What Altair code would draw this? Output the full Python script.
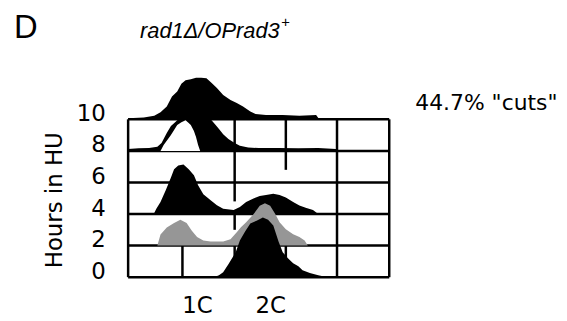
import altair as alt
import pandas as pd

# ---- data ----
hours = [0, 2, 4, 6, 8, 10]          # y axis: hours in HU (baseline of each histogram)
cut_label = '44.7% "cuts"'
ploidy_pos = [66, 136]               # DNA content channel of 1C and 2C
ploidy_lab = ["1C", "2C"]

# DNA content (channel 0-250) and counts (100 = one row height)
h10_x = [0, 15, 25, 31, 37, 42, 47, 51, 55, 60, 65, 70, 75, 80, 85, 91, 98, 104, 110, 117, 122, 132, 148, 164, 180, 183]
h10_c = [3, 6, 11, 22, 41, 72, 88, 113, 124, 127, 132, 132, 130, 115, 99, 77, 61, 52, 41, 25, 17, 14, 14, 11, 14, 0]

h8_x = [0, 10, 20, 28, 32, 37, 41, 45, 48, 79, 83, 87, 91, 96, 102, 107, 115, 125, 144, 163, 182, 199, 201]
h8_c = [6, 8, 9, 13, 25, 57, 79, 91, 100, 100, 85, 69, 53, 38, 25, 16, 11, 9, 9, 8, 9, 6, 0]

h8_hole_x = [31, 34, 41, 47, 51, 55, 58, 60, 63, 65, 67, 69]
h8_hole_c = [0, 19, 50, 82, 91, 97, 88, 82, 63, 44, 19, 0]

h4_x = [0, 6, 25, 27, 31, 36, 41, 44, 48, 53, 58, 63, 67, 72, 79, 85, 91, 101, 107, 113, 120, 126, 132, 139, 145, 151, 158, 164, 170, 177, 182]
h4_c = [2, 3, 3, 17, 38, 75, 116, 142, 154, 157, 142, 123, 91, 63, 44, 28, 17, 13, 22, 38, 49, 57, 60, 64, 60, 52, 38, 27, 20, 13, 0]

h2_x = [28, 31, 37, 44, 50, 56, 61, 66, 72, 79, 91, 98, 104, 108, 113, 120, 126, 131, 136, 141, 145, 151, 158, 164, 169, 172]
h2_c = [0, 35, 57, 72, 82, 72, 47, 27, 16, 13, 13, 20, 42, 58, 74, 99, 126, 134, 126, 99, 74, 52, 36, 27, 16, 0]

h0_x = [82, 87, 91, 96, 103, 107, 112, 117, 123, 129, 134, 139, 144, 148, 153, 158, 163, 167, 174, 182, 191]
h0_c = [0, 6, 16, 41, 79, 116, 145, 170, 179, 189, 182, 164, 113, 79, 60, 44, 35, 22, 13, 6, 0]

# grid: vertical segments (x, from hour, to hour)
vx = [0, 250, 200, 102, 102, 102, 151, 151, 52]
vy1 = [0, 0, 0, 4.8, 3, 0, 6.8, 0, 0]
vy2 = [10, 10, 10, 10, 4, 2, 10, 2, 2]

# ---- build tables ----
def hist(xs, cs, base):
    return pd.DataFrame({"x": xs, "y": [base + c / 50 for c in cs], "y2": [base] * len(xs)})

xs = alt.Scale(domain=[0, 250], nice=False, zero=False)
ys = alt.Scale(domain=[0, 13.333], nice=False, zero=False)
xax = alt.Axis(values=ploidy_pos, labelExpr="datum.value < 100 ? '1C' : '2C'", title="",
               domain=False, ticks=False, tickSize=0, grid=False, labelPadding=18,
               labelFontSize=23, labelFont="DejaVu Sans", labelColor="black")
yax = alt.Axis(values=hours, title="Hours in HU", domain=False, ticks=False, tickSize=0, grid=False,
               labelPadding=23, labelOffset=-6, labelFontSize=23, labelFont="DejaVu Sans",
               labelColor="black", titleFontSize=23, titleFont="DejaVu Sans", titleFontWeight="normal",
               titleColor="black", titleAngle=270, titleAlign="center", titleBaseline="middle",
               titleX=-74, titleY=134)

def X(f="x"):
    return alt.X(f + ":Q", scale=xs, axis=xax)

def Y(f="y"):
    return alt.Y(f + ":Q", scale=ys, axis=yax)

hlines = pd.DataFrame({"x": [0] * len(hours), "x2": [250] * len(hours), "y": hours})
vlines = pd.DataFrame({"x": vx, "y": vy1, "y2": vy2})

hrule = alt.Chart(hlines).mark_rule(color="black", strokeWidth=2.5).encode(x=X(), x2="x2:Q", y=Y())
vrule = alt.Chart(vlines).mark_rule(color="black", strokeWidth=2.5).encode(x=X(), y=Y(), y2="y2:Q")

def area(df, color):
    return alt.Chart(df).mark_area(color=color, interpolate="linear", opacity=1).encode(
        x=X(), y=Y(), y2="y2:Q")

a10 = area(hist(h10_x, h10_c, 10), "black")
a8 = area(hist(h8_x, h8_c, 8), "black")
a8h = area(hist(h8_hole_x, h8_hole_c, 8), "white")
a4 = area(hist(h4_x, h4_c, 4), "black")
a2 = area(hist(h2_x, h2_c, 2), "#969696")
a0 = area(hist(h0_x, h0_c, 0), "black")

cut = alt.Chart(pd.DataFrame({"x": [275], "y": [11], "t": [cut_label]})).mark_text(
    align="left", baseline="middle", fontSize=22, font="DejaVu Sans", color="black"
).encode(x=X(), y=Y(), text="t:N")

panel = alt.Chart(pd.DataFrame({"t": ["D"]})).mark_text(
    align="left", baseline="alphabetic", fontSize=33, font="Liberation Sans", color="black"
).encode(x=alt.value(-115), y=alt.value(-29), text="t:N")

title = alt.Chart(pd.DataFrame({"t": ["rad1Δ/OPrad3"]})).mark_text(
    align="left", baseline="alphabetic", fontSize=22, font="Liberation Sans", fontStyle="italic", color="black"
).encode(x=alt.value(12), y=alt.value(-29), text="t:N")

sup = alt.Chart(pd.DataFrame({"t": ["+"]})).mark_text(
    align="left", baseline="alphabetic", fontSize=15, font="Liberation Sans", fontStyle="italic", color="black"
).encode(x=alt.value(154), y=alt.value(-40), text="t:N")

chart = alt.layer(hrule, vrule, a10, a8, a8h, a4, a2, a0, cut, panel, title, sup).properties(
    width=263, height=212,
    autosize=alt.AutoSizeParams(type="none"),
    padding={"left": 121, "top": 58, "right": 171, "bottom": 42},
).configure_view(strokeWidth=0)

chart.save("out.html", embed_options={"renderer": "svg", "actions": False})
